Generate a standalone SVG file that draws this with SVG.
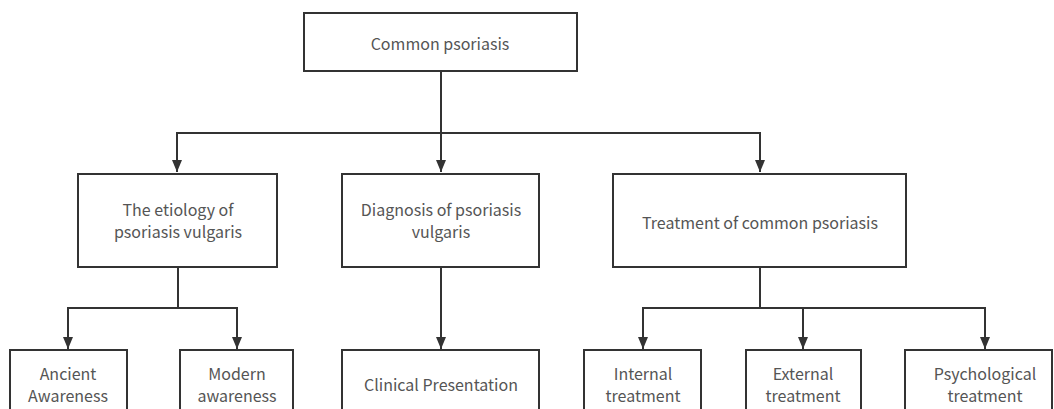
<svg xmlns="http://www.w3.org/2000/svg" width="1054" height="409" viewBox="0 0 1054 409">
<defs>
<marker id="arr" markerWidth="12" markerHeight="10" refX="12" refY="5" orient="auto" markerUnits="userSpaceOnUse" viewBox="0 0 12 10">
<path d="M0,0 L12,5 L0,10 Z" fill="#333"/>
</marker>
</defs>
<style>
.box{fill:#fff;stroke:#333;stroke-width:2}
.t{font-family:"Noto Sans CJK SC","Noto Sans",sans-serif;font-size:16px;fill:#555;text-anchor:middle;dominant-baseline:central}
.c{fill:none;stroke:#333;stroke-width:2}
.a{fill:none;stroke:#333;stroke-width:2;marker-end:url(#arr)}
</style>
<rect width="1054" height="409" fill="#fff"/>
<g id="connectors">
<path class="c" d="M441,71 V133"/>
<path class="a" d="M441,133 H177 V172"/>
<path class="a" d="M441,133 V172"/>
<path class="a" d="M441,133 H760 V172"/>
<path class="c" d="M178,267 V308"/>
<path class="a" d="M178,308 H68 V349"/>
<path class="a" d="M178,308 H237 V349"/>
<path class="a" d="M441,267 V349"/>
<path class="c" d="M760,267 V308"/>
<path class="a" d="M760,308 H643 V349"/>
<path class="a" d="M760,308 H803 V349"/>
<path class="a" d="M760,308 H985 V349"/>
</g>
<g id="n-root"><rect class="box" x="304" y="13" width="273" height="58"/><text class="t" x="440" y="43">Common psoriasis</text></g>
<g id="n-etiology"><rect class="box" x="78" y="174" width="199" height="93"/><text class="t" x="178" y="209">The etiology of</text><text class="t" x="178" y="231">psoriasis vulgaris</text></g>
<g id="n-diagnosis"><rect class="box" x="342" y="174" width="197" height="93"/><text class="t" x="441" y="209">Diagnosis of psoriasis</text><text class="t" x="441" y="231">vulgaris</text></g>
<g id="n-treatment"><rect class="box" x="613" y="174" width="293" height="93"/><text class="t" x="760" y="222">Treatment of common psoriasis</text></g>
<g id="n-ancient"><rect class="box" x="10" y="350" width="117" height="80"/><text class="t" x="68" y="373">Ancient</text><text class="t" x="68" y="395">Awareness</text></g>
<g id="n-modern"><rect class="box" x="180" y="350" width="113" height="80"/><text class="t" x="237" y="373">Modern</text><text class="t" x="237" y="395">awareness</text></g>
<g id="n-clinical"><rect class="box" x="342" y="350" width="197" height="80"/><text class="t" x="441" y="384">Clinical Presentation</text></g>
<g id="n-internal"><rect class="box" x="584" y="350" width="117" height="80"/><text class="t" x="643" y="373">Internal</text><text class="t" x="643" y="395">treatment</text></g>
<g id="n-external"><rect class="box" x="746" y="350" width="115" height="80"/><text class="t" x="803" y="373">External</text><text class="t" x="803" y="395">treatment</text></g>
<g id="n-psych"><rect class="box" x="905" y="350" width="147" height="80"/><text class="t" x="985" y="373">Psychological</text><text class="t" x="985" y="395">treatment</text></g>
</svg>
